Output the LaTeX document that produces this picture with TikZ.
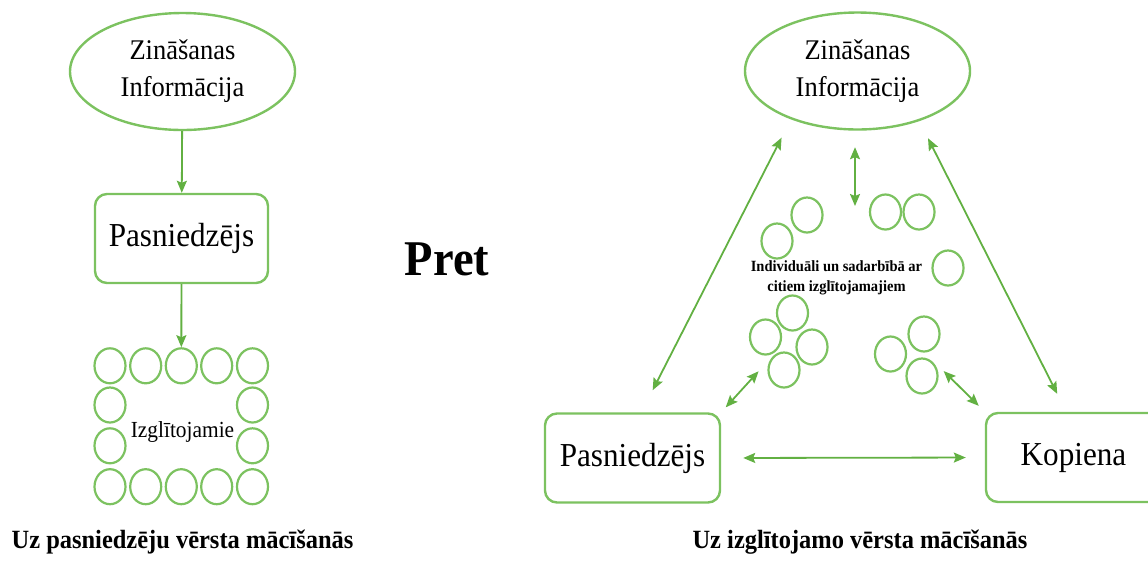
\documentclass[tikz,border=0pt]{standalone}
\usepackage{fontspec}
\setmainfont{Liberation Serif}[FakeStretch=0.93]
\usepackage{tikz}
\usetikzlibrary{arrows.meta, shapes.geometric, calc}

\definecolor{leafgreen}{RGB}{124,194,96}
\definecolor{arrowgreen}{RGB}{98,176,66}

\begin{document}
\begin{tikzpicture}[x=1pt, y=-1pt, >={Stealth[length=12pt, width=10pt, inset=2pt]},
	knowledge/.style={ellipse, draw=leafgreen, line width=2.4pt, minimum width=225pt, minimum height=117pt, inner sep=0pt, align=center, font=\fontsize{28.5}{37}\selectfont},
	rolebox/.style={rectangle, rounded corners=12pt, draw=leafgreen, line width=2.4pt, minimum height=89pt, font=\fontsize{33.5}{38}\selectfont},
	learner/.style={ellipse, draw=leafgreen, line width=2.2pt, minimum width=31pt, minimum height=35pt, inner sep=0pt},
	flow/.style={draw=arrowgreen, fill=arrowgreen, line width=1.8pt},
	caption/.style={anchor=base, font=\bfseries\fontsize{26.3}{30}\selectfont}]

	\useasboundingbox (0,0) rectangle (1148,566);

	% left: teacher in the middle
	\node [knowledge] (ellL) at (182.5,71.5) {Zināšanas\\Informācija};
	\node [rolebox, minimum width=173pt] (pasL) at (181.5,238.5) {Pasniedzējs};

	\foreach \i/\x in {0/110,1/145.7,2/181.3,3/216.7,4/252.5} {
		\node [learner] (t\i) at (\x,365.8) {};
		\node [learner] (b\i) at (\x,486.7) {};
	}
	\foreach \j/\y in {1/405,2/445.8} {
		\node [learner] (l\j) at (110,\y) {};
		\node [learner] (r\j) at (252.5,\y) {};
	}
	\node [anchor=base, font=\fontsize{23}{26}\selectfont] (izg) at (182.5,437) {Izglītojamie};

	\draw [flow, ->] (ellL) -- (pasL);
	\draw [flow, ->] (pasL) -- (t2);

	\node [caption] (capL) at (182.5,548) {Uz pasniedzēju vērsta mācīšanās};

	\node [anchor=base, font=\bfseries\fontsize{50}{50}\selectfont] (pret) at (447,275) {Pret};

	% right: learners in the middle
	\node [knowledge] (ellR) at (857.5,71) {Zināšanas\\Informācija};
	\node [rolebox, minimum width=175pt] (pasR) at (632.5,458) {Pasniedzējs};
	\node [rolebox, minimum width=175pt] (kopR) at (1073.5,457.5) {Kopiena};

	\foreach \n/\p in {cA/{777,241}, cB/{807,215}, cC/{885.5,212}, cD/{919,212}, cE/{948,268},
		cL1/{792.5,313}, cL2/{765.5,337}, cL3/{812,347}, cL4/{784,370},
		cR1/{924,334}, cR2/{890.5,354}, cR3/{922,376}}
		\node [learner] (\n) at (\p) {};

	\node [align=center, font=\bfseries\fontsize{15.6}{20}\selectfont] (ind) at (836.5,278)
		{Individuāli un sadarbībā ar\\citiem izglītojamajiem};

	\coordinate (grpTop) at (855,206);

	\draw [flow, <->, shorten <=20.5pt, shorten >=24.8pt] (ellR.216.3) -- (pasR.79.8);
	\draw [flow, <->, shorten <=19.2pt, shorten >=20.1pt] (ellR.321.8) -- (kopR.99.6);
	\draw [flow, <->, shorten <=16.5pt] (ellR.south -| grpTop) -- (grpTop);
	\draw [flow, <->, shorten <=22pt, shorten >=19pt] (pasR.east) -- (kopR.west);
	\draw [flow, <->, shorten <=6.7pt, shorten >=24pt] (pasR.north east) -- ($(cL2)!0.5!(cL4)$);
	\draw [flow, <->, shorten <=8.5pt, shorten >=28.8pt] (kopR.north west) -- ($(cR1)!0.4!(cR3)$);

	\node [caption] (capR) at (860,548) {Uz izglītojamo vērsta mācīšanās};

\end{tikzpicture}
\end{document}
